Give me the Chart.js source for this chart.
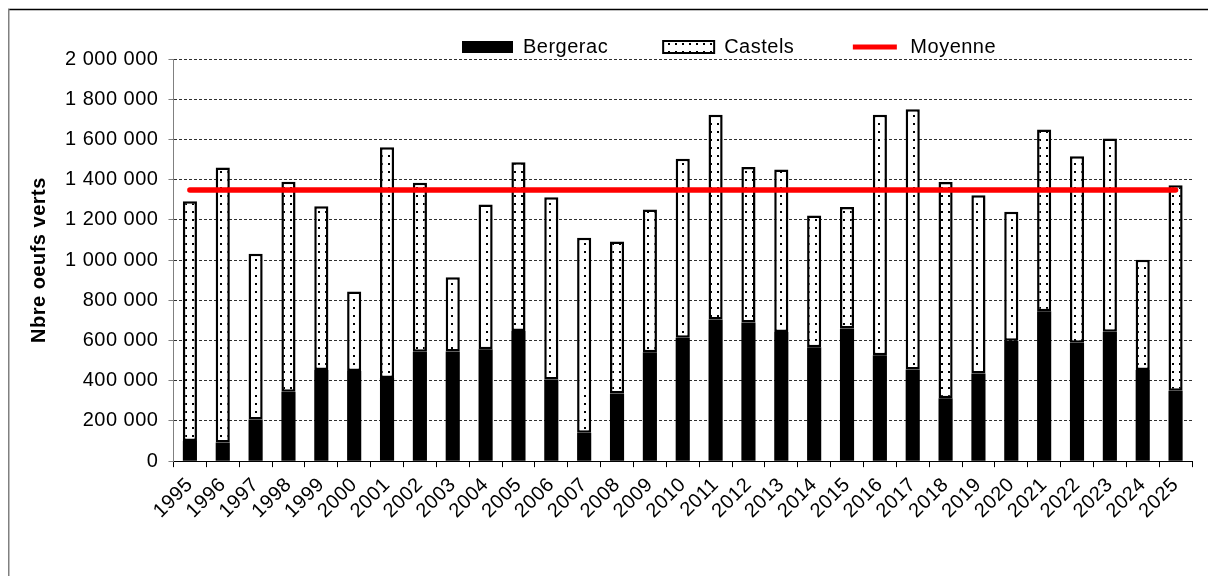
<!DOCTYPE html>
<html><head><meta charset="utf-8">
<script src="https://cdn.jsdelivr.net/npm/chart.js@4"></script>
<style>html,body{margin:0;padding:0;background:#fff;}</style>
</head><body>
<canvas id="c" width="1208" height="576"></canvas>
<script>
const years = ['1995','1996','1997','1998','1999','2000','2001','2002','2003','2004','2005','2006','2007','2008','2009','2010','2011','2012','2013','2014','2015','2016','2017','2018','2019','2020','2021','2022','2023','2024','2025'];
const bergerac = [100000,93000,207000,345000,453000,448000,414000,544000,545000,557000,647000,406000,141000,337000,541000,614000,705000,690000,642000,566000,660000,527000,456000,313000,436000,599000,746000,589000,643000,453000,350000];
const castels = [1193000,1368000,824000,1044000,815000,396000,1147000,841000,370000,720000,839000,906000,970000,756000,711000,890000,1018000,773000,809000,656000,604000,1196000,1294000,1075000,886000,641000,904000,927000,962000,549000,1022000];
const moyenne = [1348000,1348000,1348000,1348000,1348000,1348000,1348000,1348000,1348000,1348000,1348000,1348000,1348000,1348000,1348000,1348000,1348000,1348000,1348000,1348000,1348000,1348000,1348000,1348000,1348000,1348000,1348000,1348000,1348000,1348000,1348000];
const seriesNames = ['Bergerac','Castels','Moyenne'];
const yAxisTitle = 'Nbre oeufs verts';
const yMin = 0, yMax = 2000000, yStep = 200000;

function fmt(v){ return String(v).replace(/\B(?=(\d{3})+(?!\d))/g,' '); }

const pc = document.createElement('canvas');
pc.width = 7; pc.height = 8;
const pctx = pc.getContext('2d');
pctx.fillStyle = '#fff'; pctx.fillRect(0,0,7,8);
pctx.fillStyle = '#000'; pctx.fillRect(3,3,2,2);
const canvas = document.getElementById('c');
const ctx = canvas.getContext('2d');
const dots = ctx.createPattern(pc,'repeat');

const FONT = 'Arial, "Liberation Sans", sans-serif';
const SP = '0.5px';
const LEG_PAD = 55;

const spacingPlugin = {
  id:'spacing',
  beforeUpdate(chart){ chart.ctx.letterSpacing = SP; },
  beforeLayout(chart){ chart.ctx.letterSpacing = SP; },
  beforeDraw(chart){ chart.ctx.letterSpacing = SP; }
};
const legendPlace = {
  id:'legendPlace',
  afterLayout(chart){
    const l = chart.legend; if(!l) return;
    const w = l.right - l.left;
    l.left = 462 - LEG_PAD; l.right = l.left + w;
    l.top = 37 - LEG_PAD; l.bottom = 60;
  }
};
const framePlugin = {
  id:'frame',
  afterDraw(chart){
    const c = chart.ctx; c.save();
    c.strokeStyle = '#000'; c.lineWidth = 1.5;
    c.beginPath(); c.moveTo(8, 9.5); c.lineTo(1208, 9.5); c.stroke();
    c.strokeStyle = '#808080'; c.lineWidth = 1.5;
    c.beginPath(); c.moveTo(8.75, 9); c.lineTo(8.75, 576); c.stroke();
    c.restore();
  }
};

new Chart(canvas, {
  type:'bar',
  data:{
    labels: years,
    datasets:[
      {label:seriesNames[0], data:bergerac, backgroundColor:'#000', borderColor:'#000', borderWidth:0, categoryPercentage:1, barPercentage:0.43, order:1},
      {label:seriesNames[1], data:castels, backgroundColor:dots, borderColor:'#000', borderWidth:2.5, borderSkipped:false, categoryPercentage:1, barPercentage:0.43, order:1},
      {type:'line', label:seriesNames[2], data:moyenne, borderColor:'#ff0000', backgroundColor:'#ff0000', borderWidth:5.5, borderCapStyle:'round', pointRadius:0, fill:false, stack:'mean', order:0}
    ]
  },
  options:{
    responsive:false, devicePixelRatio:1, animation:false,
    layout:{padding:{top:35, left:27, right:16, bottom:47}},
    plugins:{
      tooltip:{enabled:false},
      legend:{
        position:'top', align:'start', maxHeight:24,
        labels:{
          boxWidth:51, boxHeight:12, padding:LEG_PAD, color:'#000',
          font:{family:FONT, size:20},
          generateLabels(){
            return [
              {text:seriesNames[0], fillStyle:'#000', strokeStyle:'#000', lineWidth:0, datasetIndex:0, fontColor:'#000'},
              {text:seriesNames[1], fillStyle:dots, strokeStyle:'#000', lineWidth:2, datasetIndex:1, fontColor:'#000'},
              {text:seriesNames[2], fillStyle:'#ff0000', strokeStyle:'#fff', lineWidth:7, datasetIndex:2, fontColor:'#000'}
            ];
          }
        }
      }
    },
    scales:{
      x:{
        stacked:true, offset:true,
        grid:{display:true, drawOnChartArea:false, offset:true, tickLength:6, color:'#000', lineWidth:1},
        border:{display:true, color:'#000', width:1},
        ticks:{autoSkip:false, maxRotation:45, minRotation:45, padding:6, color:'#000', font:{family:FONT, size:20}}
      },
      y:{
        stacked:true, min:yMin, max:yMax,
        title:{display:true, text:yAxisTitle, color:'#000', font:{family:FONT, size:20, weight:'bold'}, padding:{top:0,bottom:4}},
        grid:{color:'#303030', lineWidth:1, tickLength:5, tickColor:'#808080', tickBorderDash:[]},
        border:{display:true, color:'#808080', width:1, dash:[3,2]},
        ticks:{stepSize:yStep, padding:10, color:'#000', font:{family:FONT, size:20}, callback:(v)=>fmt(v)}
      }
    }
  },
  plugins:[spacingPlugin, legendPlace, framePlugin]
});
</script>
</body></html>
